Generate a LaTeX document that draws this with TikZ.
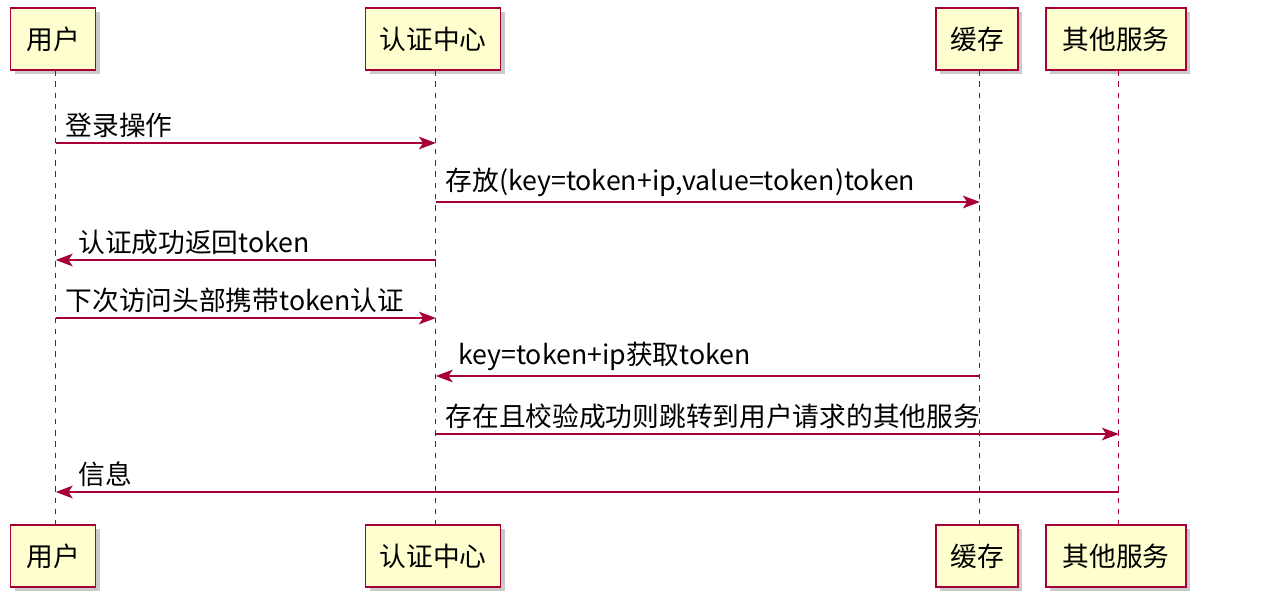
\documentclass[tikz,border=0pt]{standalone}
\usepackage{fontspec}
\setmainfont{Noto Sans CJK SC}
\usetikzlibrary{arrows.meta,shadows}
\definecolor{umlred}{HTML}{A80036}
\definecolor{umlfill}{HTML}{FEFECE}
\begin{document}
\begin{tikzpicture}[x=0.025cm,y=-0.025cm,inner sep=0pt,outer sep=0pt,
actor/.style={draw=umlred,fill=umlfill,line width=1.2pt,minimum height=1.55cm,font=\fontsize{19}{22}\selectfont,
  drop shadow={shadow xshift=3pt,shadow yshift=-3pt,fill=black!35,opacity=.6}},
lifeline/.style={umlred,line width=0.9pt,dash pattern=on 4pt off 4pt},
msg/.style={umlred,line width=1pt,-{Stealth[length=12pt,width=9pt,inset=3pt]}},
lbl/.style={black,font=\fontsize{19}{22}\selectfont,anchor=south west,yshift=4pt}]
\useasboundingbox (0,0) rectangle (1262,606);

% participants
\foreach \name/\txt/\xc/\w in {user/用户/53/85,auth/认证中心/433/135,cache/缓存/977/82,svc/其他服务/1116/140}{
  \node[actor,minimum width=\w*0.025cm] (\name-top) at (\xc,39) {\txt};
  \node[actor,minimum width=\w*0.025cm] (\name-bot) at (\xc,556) {\txt};
  \draw[lifeline] ([xshift=2pt]\name-top.south) -- ([xshift=2pt]\name-bot.north);
}

% messages
\draw[msg] ([xshift=2pt]user-top.south |- 0,143) -- node[lbl,pos=0,xshift=7pt] {登录操作} ([xshift=2pt]auth-top.south |- 0,143);
\draw[msg] ([xshift=2pt]auth-top.south |- 0,202) -- node[lbl,pos=0,xshift=7pt] {存放(key=token+ip,value=token)token} ([xshift=2pt]cache-top.south |- 0,202);
\draw[msg] ([xshift=2pt]auth-top.south |- 0,260) -- node[lbl,pos=1,xshift=16pt] {认证成功返回token} ([xshift=2pt]user-top.south |- 0,260);
\draw[msg] ([xshift=2pt]user-top.south |- 0,318) -- node[lbl,pos=0,xshift=7pt] {下次访问头部携带token认证} ([xshift=2pt]auth-top.south |- 0,318);
\draw[msg] ([xshift=2pt]cache-top.south |- 0,376) -- node[lbl,pos=1,xshift=16pt] {key=token+ip获取token} ([xshift=2pt]auth-top.south |- 0,376);
\draw[msg] ([xshift=2pt]auth-top.south |- 0,434) -- node[lbl,pos=0,xshift=7pt] {存在且校验成功则跳转到用户请求的其他服务} ([xshift=2pt]svc-top.south |- 0,434);
\draw[msg] ([xshift=2pt]svc-top.south |- 0,492) -- node[lbl,pos=1,xshift=16pt] {信息} ([xshift=2pt]user-top.south |- 0,492);
\end{tikzpicture}
\end{document}
